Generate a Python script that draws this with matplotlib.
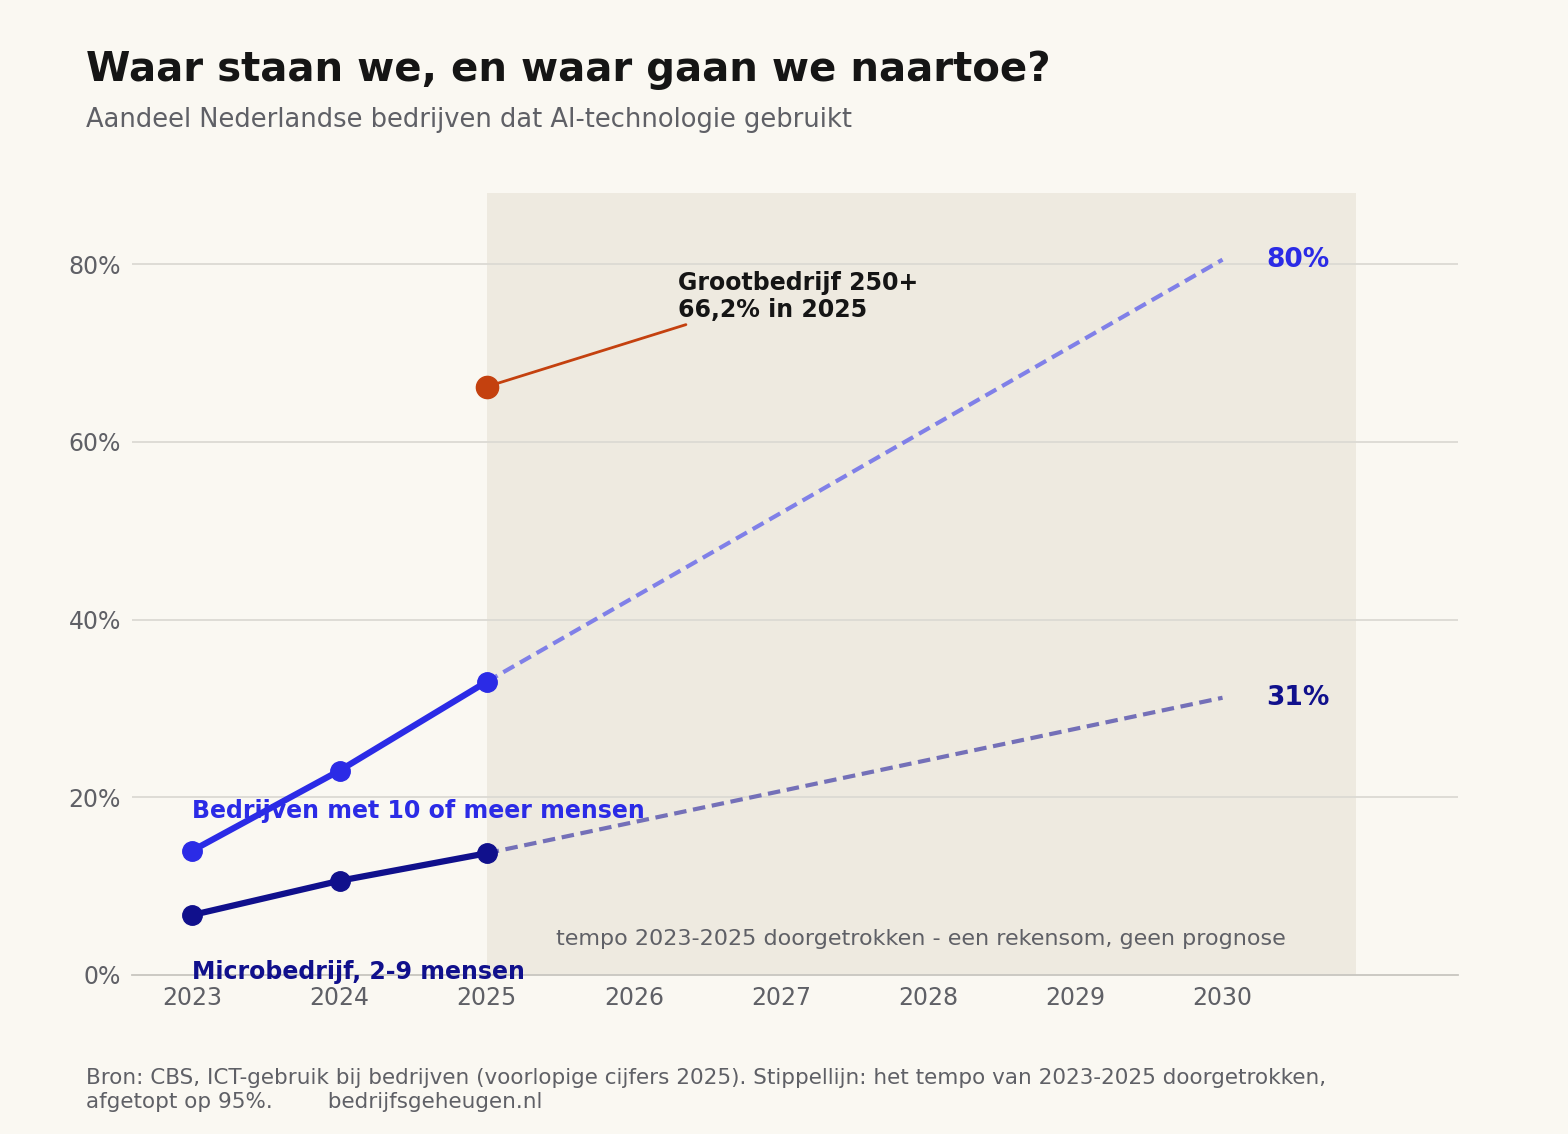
import matplotlib
matplotlib.use("Agg")
import matplotlib.pyplot as plt

# data
years = [2023, 2024, 2025]
small_firms = [14.0, 23.0, 33.0]      # 10 of meer mensen
micro_firms = [6.75, 10.6, 13.7]      # 2-9 mensen
proj_years = [2025, 2030]
small_proj = [33.0, 80.5]
micro_proj = [13.7, 31.2]
large_year = 2025
large_value = 66.2
yticks = [0, 20, 40, 60, 80]
xticks = [2023, 2024, 2025, 2026, 2027, 2028, 2029, 2030]

BG = "#faf8f2"
SHADE = "#eeeae0"
BLUE = "#2b2be6"
NAVY = "#10108c"
ORANGE = "#c4410f"
GREY = "#5f6066"

fig = plt.figure(figsize=(15.68, 11.34), dpi=100, facecolor=BG)
ax = fig.add_axes([132/1568, 159/1134, 1326/1568, 782/1134], facecolor=BG)

ax.axvspan(2025, 2030.91, ymin=0, ymax=1, color=SHADE, zorder=0, lw=0)
for y in yticks[1:]:
    ax.axhline(y, color="#dcdad3", lw=1.3, zorder=1)

ax.plot(proj_years, small_proj, color="#8080e8", lw=3, ls=(0, (3, 1.6)), zorder=2)
ax.plot(proj_years, micro_proj, color="#7470b8", lw=3, ls=(0, (3, 1.6)), zorder=2)
ax.plot(years, small_firms, color=BLUE, lw=4.5, marker="o", ms=14, zorder=3)
ax.plot(years, micro_firms, color=NAVY, lw=4.5, marker="o", ms=14, zorder=3)
ax.plot([large_year], [large_value], "o", color=ORANGE, ms=16, zorder=4)

ax.annotate("Grootbedrijf 250+\n66,2% in 2025", xy=(large_year, large_value),
            xytext=(2026.3, 73.5), fontsize=17, fontweight="bold", color="#151515",
            ha="left", va="bottom", linespacing=1.15,
            arrowprops=dict(arrowstyle="-", color=ORANGE, lw=2,
                            shrinkA=0, shrinkB=8, relpos=(0.07, 0)))

ax.text(2023, 18.5, "Bedrijven met 10 of meer mensen", color=BLUE, fontsize=17,
        fontweight="bold", va="center", zorder=5)
ax.text(2023, 0.3, "Microbedrijf, 2-9 mensen", color=NAVY, fontsize=17,
        fontweight="bold", va="center", zorder=5)
ax.text(2030.3, small_proj[-1], "80%", color=BLUE, fontsize=19, fontweight="bold", va="center")
ax.text(2030.3, micro_proj[-1], "31%", color=NAVY, fontsize=19, fontweight="bold", va="center")
ax.text(2027.95, 4, "tempo 2023-2025 doorgetrokken - een rekensom, geen prognose",
        color=GREY, fontsize=16, ha="center", va="center")

ax.set_xlim(2022.59, 2031.6)
ax.set_ylim(0, 88)
ax.set_xticks(xticks)
ax.set_yticks(yticks)
ax.set_yticklabels([f"{v}%" for v in yticks])
ax.tick_params(colors=GREY, labelsize=17, length=0, pad=8)
for s in ["top", "right", "left"]:
    ax.spines[s].set_visible(False)
ax.spines["bottom"].set_color("#c8c6c0")
ax.spines["bottom"].set_linewidth(1.3)

fig.text(86/1568, 1 - 70/1134, "Waar staan we, en waar gaan we naartoe?", fontsize=29,
         fontweight="bold", color="#151515", va="center")
fig.text(86/1568, 1 - 120/1134, "Aandeel Nederlandse bedrijven dat AI-technologie gebruikt",
         fontsize=18.5, color=GREY, va="center")
fig.text(86/1568, 1 - 1090/1134,
         "Bron: CBS, ICT-gebruik bij bedrijven (voorlopige cijfers 2025). Stippellijn: het tempo van 2023-2025 doorgetrokken,\n"
         "afgetopt op 95%.        bedrijfsgeheugen.nl",
         fontsize=15.5, color=GREY, va="center", linespacing=1.3)

fig.savefig("out.png", dpi=100, facecolor=BG)
